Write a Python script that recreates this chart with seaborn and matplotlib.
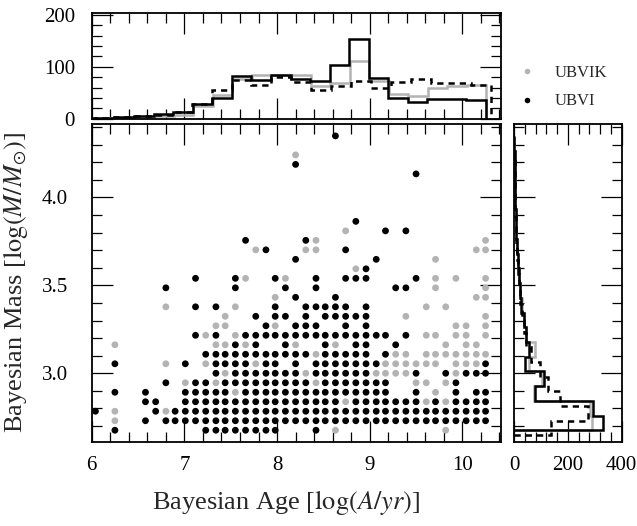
import numpy as np
import pandas as pd
import matplotlib
matplotlib.use('Agg')
import matplotlib.pyplot as plt
from matplotlib.ticker import MultipleLocator
from matplotlib.lines import Line2D
import seaborn as sns

# model grid the clusters sit on
AGE_GRID = [6.04, 6.15, 6.25, 6.36, 6.47, 6.58, 6.69, 6.80, 6.90, 7.01,
            7.12, 7.23, 7.34, 7.44, 7.55, 7.66, 7.77, 7.88, 7.98, 8.09,
            8.20, 8.31, 8.42, 8.52, 8.63, 8.74, 8.85, 8.96, 9.07, 9.17,
            9.28, 9.39, 9.50, 9.61, 9.71, 9.82, 9.93, 10.04, 10.15, 10.25]
MASS_GRID = [2.676, 2.730, 2.784, 2.838, 2.892, 2.946, 3.000, 3.054,
             3.108, 3.162, 3.216, 3.270, 3.324, 3.378, 3.432, 3.486,
             3.540, 3.594, 3.648, 3.702, 3.756, 3.810, 3.864, 3.918,
             3.972, 4.026, 4.080, 4.134, 4.188, 4.242, 4.296, 4.350]

# occupied grid cells, highest mass row first (g = UBVIK, k = UBVI)
GRID = [
    ".......... .......... ....k..... ..........",
    ".......... .......... .......... ..........",
    ".......... .......... g......... ..........",
    ".......... .......... k......... ..........",
    ".......... .......... .......... ..k.......",
    ".......... .......... .......... ..........",
    ".......... .......... .......... ..........",
    ".......... .......... .......... ..........",
    ".......... .......... .......... ..........",
    ".......... .......... ......k... ..........",
    ".......... .......... .....g...k .k........",
    ".......... .....k.... .kg....... .........g",
    ".......... ......gk.. .gg..k.... ........gg",
    ".......... .......... k.......k. ....g.....",
    ".......... .......... ......gk.. ..........",
    ".......... k...kg..kg ..k..kkk.. ..k.g.g..g",
    ".......k.. ....k....k ..k....... kk..g....g",
    ".......... ........g. k...k..... ........gg",
    ".......g.. k.k.g...k. .kkkkk.k.. ...g.g....",
    ".......... ...g..k.kk .k.kkkkk.. .g.......g",
    ".......... ..gg...kg. kkk..k.k.. ......gg.g",
    ".......... kgk.gkkkkk kkkkkkkkkk .k.gg.gg.g",
    "..g....... ..ggkgk..k g..kg.kk.. k....g.gg.",
    ".......... .kkkkkkkkk kkgkkkkk.k gg.ggggggg",
    "..k....g.k .gkkkkgkk. k.kkkkkkkg ggggg.gggk",
    ".......... ..kgkkkkkk kgkkkkkkgg ggk..kgkkk",
    ".......k.g kkgkkkkkkk kkgkkkkkkk ..gg.gk...",
    "..k..k...k kkkkgkkkkk kkkkkkkkkk ..k.g.k.kk",
    ".....kk..k kkkkkkkkkk kkkkkgkkkk kkkgkgkkkk",
    "k.g...kgkk kkkkkkkkkk kkkkkkkkkk kkkkkkkkkk",
    "..g..k.kkk kkkkkkkkkk kkkkkkkkkk kkkkkkkkkk",
    "..k....... .kkkkkkkk. ..k.g..... .....g....",
]

# age histograms (20 bins between each sample's min and max age)
AGE_UBVI = [2, 4, 6, 9, 13, 28, 41, 83, 75, 84, 76, 72, 103, 154, 79, 40, 32, 38, 38, 36]
AGE_UBVIK = [1, 2, 4, 6, 8, 24, 45, 77, 85, 85, 85, 63, 68, 112, 72, 48, 44, 59, 63, 65]
AGE_ALL = [1, 3, 5, 8, 14, 28, 56, 74, 65, 80, 70, 56, 64, 72, 60, 71, 76, 69, 69, 65]
AGE_RANGE_UBVI = (6.04, 10.25)
AGE_RANGE_UBVIK = (6.04, 10.26)
AGE_RANGE_ALL = (6.00, 10.31)

# mass histograms
MASS_UBVI = [330, 295, 79, 111, 40, 54, 46, 37, 27, 22, 17, 14, 11, 9, 7, 5, 4, 3, 2, 1]
MASS_UBVIK = [289, 284, 75, 105, 54, 79, 46, 36, 28, 22, 17, 13, 11, 9, 7, 5, 4, 3, 2, 1]
MASS_ALL = [138, 274, 169, 126, 95, 62, 45, 36, 28, 22, 17, 14, 11, 9, 7, 5, 4, 3, 2, 1]
MASS_RANGE_UBVI = (2.676, 4.35)
MASS_RANGE_UBVIK = (2.676, 4.35)
MASS_RANGE_ALL = (2.648, 4.31)

GRAY = '#b3b3b3'

sns.set_style('ticks')
plt.rcParams['font.family'] = ['Liberation Serif', 'DejaVu Serif']
plt.rcParams['mathtext.fontset'] = 'stix'

# Build the point table from the grid
rows = []
for i, line in enumerate(GRID):
    r = len(GRID) - 1 - i
    for c, ch in enumerate(line.replace(' ', '')):
        if ch == 'g':
            rows.append((AGE_GRID[c], MASS_GRID[r], 'UBVIK'))
        elif ch == 'k':
            rows.append((AGE_GRID[c], MASS_GRID[r], 'UBVI'))
df = pd.DataFrame(rows, columns=['age', 'mass', 'filters'])
df = df.sort_values('filters', ascending=False)  # gray first, black on top

fig = plt.figure(figsize=(6.37, 5.26), dpi=100)
ax_main = fig.add_axes([0.144, 0.160, 0.643, 0.605])
ax_top = fig.add_axes([0.144, 0.774, 0.643, 0.202], sharex=ax_main)
ax_right = fig.add_axes([0.807, 0.160, 0.169, 0.605], sharey=ax_main)

sns.scatterplot(data=df, x='age', y='mass', hue='filters',
                hue_order=['UBVIK', 'UBVI'],
                palette={'UBVIK': GRAY, 'UBVI': 'black'},
                s=24, linewidth=0, legend=False, ax=ax_main)


def edges(rng, n):
    return np.linspace(rng[0], rng[1], n + 1)


# top: age histograms
ax_top.stairs(AGE_UBVIK, edges(AGE_RANGE_UBVIK, len(AGE_UBVIK)), color=GRAY, lw=1.8, baseline=0)
ax_top.stairs(AGE_ALL, edges(AGE_RANGE_ALL, len(AGE_ALL)), color='black', lw=1.8,
              ls=(0, (2.5, 2.0)), baseline=0)
ax_top.stairs(AGE_UBVI, edges(AGE_RANGE_UBVI, len(AGE_UBVI)), color='black', lw=1.8, baseline=0)

# right: mass histograms
ax_right.stairs(MASS_UBVIK, edges(MASS_RANGE_UBVIK, len(MASS_UBVIK)), color=GRAY, lw=1.8,
                baseline=0, orientation='horizontal')
ax_right.stairs(MASS_ALL, edges(MASS_RANGE_ALL, len(MASS_ALL)), color='black', lw=1.8,
                ls=(0, (2.5, 2.0)), baseline=0, orientation='horizontal')
ax_right.stairs(MASS_UBVI, edges(MASS_RANGE_UBVI, len(MASS_UBVI)), color='black', lw=1.8,
                baseline=0, orientation='horizontal')

ax_main.set_xlim(6.0, 10.42)
ax_main.set_ylim(2.61, 4.42)
ax_top.set_ylim(0, 204)
ax_right.set_xlim(0, 400)

ax_main.xaxis.set_major_locator(MultipleLocator(1))
ax_main.xaxis.set_minor_locator(MultipleLocator(0.2))
ax_main.yaxis.set_major_locator(MultipleLocator(0.5))
ax_main.yaxis.set_minor_locator(MultipleLocator(0.1))
ax_top.yaxis.set_major_locator(MultipleLocator(100))
ax_top.yaxis.set_minor_locator(MultipleLocator(20))
ax_right.xaxis.set_major_locator(MultipleLocator(200))
ax_right.xaxis.set_minor_locator(MultipleLocator(40))

ax_main.yaxis.set_major_formatter(plt.FormatStrFormatter('%.1f'))

for ax in (ax_main, ax_top, ax_right):
    ax.tick_params(which='both', direction='in', top=True, right=True,
                   labelsize=15, width=0.9, colors='black')
    ax.tick_params(which='major', length=15)
    ax.tick_params(which='minor', length=7)
    for sp in ax.spines.values():
        sp.set_linewidth(1.3)
        sp.set_color('black')
    ax.set_xlabel('')
    ax.set_ylabel('')

ax_top.tick_params(labelbottom=False)
ax_right.tick_params(labelleft=False)
ax_main.tick_params(axis='x', pad=10)
ax_right.tick_params(axis='x', pad=10)
ax_main.tick_params(axis='y', pad=17)
ax_top.tick_params(axis='y', pad=12)

ax_main.set_xlabel('Bayesian Age [$\\log(A/yr)$]', fontsize=19, labelpad=6)
ax_main.xaxis.set_label_coords(0.475, -0.146)
ax_main.set_ylabel('Bayesian Mass [$\\log(M/M_{\\odot})$]', fontsize=19)
ax_main.yaxis.set_label_coords(-0.150, 0.5)

handles = [Line2D([], [], ls='none', marker='o', markersize=4, color=GRAY, markeredgewidth=0),
           Line2D([], [], ls='none', marker='o', markersize=4, color='black', markeredgewidth=0)]
fig.legend(handles, ['UBVIK', 'UBVI'], loc='upper left', bbox_to_anchor=(0.790, 0.905),
           frameon=False, fontsize=12, handlelength=1.0, handletextpad=1.2, labelspacing=0.75)

fig.savefig('out.png', dpi=100)
